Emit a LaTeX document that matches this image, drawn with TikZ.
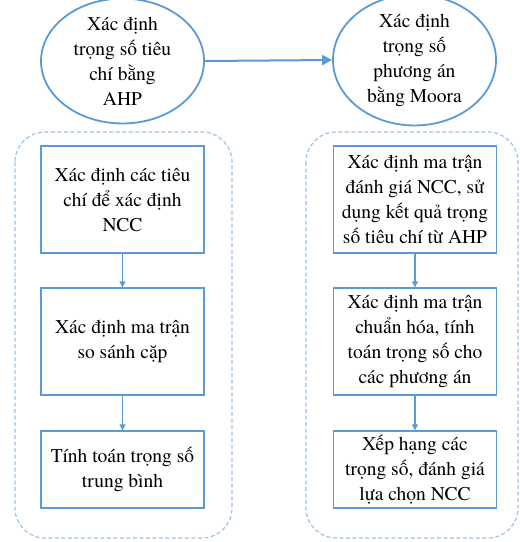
\documentclass[tikz,border=0pt]{standalone}
\usepackage{fontspec}
\setmainfont{TeX Gyre Termes}
\usetikzlibrary{shapes.geometric,arrows.meta}
\definecolor{mainblue}{RGB}{91,155,213}
\definecolor{lightblue}{RGB}{157,195,230}
\begin{document}
\begin{tikzpicture}[x=1pt,y=-1pt,
  txt/.style={font=\rmfamily\fontsize{19.5}{25}\selectfont, align=center, inner sep=0pt},
  ell/.style={draw=mainblue, line width=1.8pt, ellipse, minimum width=163pt, minimum height=111pt, txt},
  stepbox/.style={draw=mainblue, line width=1.4pt, rectangle, minimum width=163pt, txt},
  cont/.style={draw=lightblue, line width=1.2pt, dashed, dash pattern=on 4pt off 2.5pt, rounded corners=30pt},
  flow/.style={draw=mainblue, line width=1.2pt, -{Triangle[length=6pt,width=6pt]}},
  bigflow/.style={draw=mainblue, line width=2pt, -{Triangle[length=10pt,width=10pt]}}
]
\useasboundingbox (0,0) rectangle (520,542);
\fill[white] (0,0) rectangle (520,542);

\node[ell] (e1) at (122.5,61) {Xác định\\trọng số tiêu\\chí bằng\\AHP};
\node[ell] (e2) at (414.5,60) {Xác định\\trọng số\\phương án\\bằng Moora};
\draw[bigflow] (e1.east) -- (e2.west);

\draw[cont] (15,132) rectangle (232,538);
\draw[cont] (306,132) rectangle (518,538);

\node[stepbox, minimum height=107pt] (l1) at (122.5,199.5) {Xác định các tiêu\\chí để xác định\\NCC};
\node[stepbox, minimum height=107pt] (l2) at (122.5,341.5) {Xác định ma trận\\so sánh cặp};
\node[stepbox, minimum height=77pt] (l3) at (122.5,469.5) {Tính toán trọng số\\trung bình};

\node[stepbox, minimum height=107pt] (r1) at (415,199.5) {Xác định ma trận\\đánh giá NCC, sử\\dụng kết quả trọng\\số tiêu chí từ AHP};
\node[stepbox, minimum height=107pt] (r2) at (415,341.5) {Xác định ma trận\\chuẩn hóa, tính\\toán trọng số cho\\các phương án};
\node[stepbox, minimum height=77pt] (r3) at (415,469.5) {Xếp hạng các\\trọng số, đánh giá\\lựa chọn NCC};

\draw[flow] (l1.south) -- (l2.north);
\draw[flow] (l2.south) -- (l3.north);
\draw[flow] (r1.south) -- (r2.north);
\draw[flow] (r2.south) -- (r3.north);
\end{tikzpicture}
\end{document}
